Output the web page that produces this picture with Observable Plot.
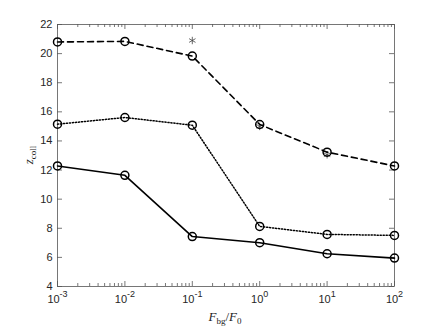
<!DOCTYPE html>
<html><head><meta charset="utf-8">
<script src="https://cdn.jsdelivr.net/npm/d3@7"></script>
<script src="https://cdn.jsdelivr.net/npm/@observablehq/plot@0.6"></script>
<style>body{margin:0;background:#fff}</style>
</head><body><div id="chart"></div>
<script>
// Data
const ratios = [1e-3, 1e-2, 1e-1, 1, 10, 100];
const dashedVals = [20.8, 20.84, 19.83, 15.13, 13.23, 12.28];
const dottedVals = [15.15, 15.61, 15.08, 8.13, 7.58, 7.51];
const solidVals  = [12.28, 11.64, 7.43, 7.01, 6.25, 5.95];
const starRatios = [1e-1, 1, 10];
const starVals   = [20.9, 15.0, 13.05];
const xTickExps  = [-3, -2, -1, 0, 1, 2];
const yTicks     = [4, 6, 8, 10, 12, 14, 16, 18, 20, 22];

const majorX = xTickExps.map(e => Math.pow(10, e));
const minorX = xTickExps.slice(0, -1).flatMap(e => [2,3,4,5,6,7,8,9].map(k => k * Math.pow(10, e)));
const toRows = vals => ratios.map((r, i) => ({x: r, y: vals[i]}));
const stars = starRatios.map((r, i) => ({x: r, y: starVals[i]}));

const W = 436, H = 327, ML = 57, MR = 42, MT = 24, MB = 41;
const PW = W - ML - MR, PH = H - MT - MB;
const axisStroke = "#555";
const chart = Plot.plot({
  width: W, height: H,
  marginLeft: ML, marginRight: MR, marginTop: MT, marginBottom: MB,
  style: {fontFamily: "'Liberation Sans', Arial, sans-serif", fontSize: "11px", color: "#262626", background: "#fff"},
  x: {type: "log", domain: [1e-3, 1e2]},
  y: {domain: [4, 22]},
  marks: [
    Plot.frame({stroke: axisStroke, strokeWidth: 0.8}),
    Plot.axisY({ticks: yTicks, tickSize: 0, tickPadding: 5, tickFormat: d => String(d), label: null}),
    Plot.axisX({ticks: majorX, tickSize: 0, tickPadding: 9, tickFormat: d => "10^" + Math.round(Math.log10(d)), label: null}),
    // inward ticks
    Plot.tickY(yTicks, {y: d => d, insetRight: PW - 5, stroke: axisStroke, strokeWidth: 0.8}),
    Plot.tickY(yTicks, {y: d => d, insetLeft: PW - 5, stroke: axisStroke, strokeWidth: 0.8}),
    Plot.tickX(majorX, {x: d => d, insetTop: PH - 5, stroke: axisStroke, strokeWidth: 0.8}),
    Plot.tickX(majorX, {x: d => d, insetBottom: PH - 5, stroke: axisStroke, strokeWidth: 0.8}),
    Plot.tickX(minorX, {x: d => d, insetTop: PH - 3, stroke: axisStroke, strokeWidth: 0.8}),
    Plot.tickX(minorX, {x: d => d, insetBottom: PH - 3, stroke: axisStroke, strokeWidth: 0.8}),
    Plot.dot(stars, {x: "x", y: "y", symbol: "asterisk", r: 3.5, stroke: "#444", strokeWidth: 0.8}),
    Plot.line(toRows(dashedVals), {x: "x", y: "y", stroke: "black", strokeWidth: 1.6, strokeDasharray: "6,4"}),
    Plot.line(toRows(dottedVals), {x: "x", y: "y", stroke: "black", strokeWidth: 1.5, strokeDasharray: "1.2,1.8"}),
    Plot.line(toRows(solidVals), {x: "x", y: "y", stroke: "black", strokeWidth: 1.6}),
    Plot.dot(toRows(dashedVals), {x: "x", y: "y", r: 4, stroke: "black", strokeWidth: 1.5, fill: "none"}),
    Plot.dot(toRows(dottedVals), {x: "x", y: "y", r: 4, stroke: "black", strokeWidth: 1.5, fill: "none"}),
    Plot.dot(toRows(solidVals), {x: "x", y: "y", r: 4, stroke: "black", strokeWidth: 1.5, fill: "none"})
  ]
});
document.getElementById("chart").appendChild(chart);

const svg = d3.select(chart);
// Superscript exponents in x tick labels
svg.selectAll('g[aria-label="x-axis tick label"] text').each(function() {
  const t = d3.select(this);
  const s = t.text();
  if (!s.includes("^")) return;
  const [base, exp] = s.split("^");
  t.text(null);
  t.append("tspan").text(base);
  t.append("tspan").attr("dy", -6).attr("font-size", "9px").text(exp);
});

const serif = "'Liberation Serif', 'Times New Roman', serif";
// Y label: z_coll
const yl = svg.append("text")
  .attr("transform", "translate(33,155) rotate(-90)")
  .attr("text-anchor", "middle")
  .attr("font-family", serif).attr("fill", "#222");
yl.append("tspan").attr("font-style", "italic").attr("font-size", "13px").text("z");
yl.append("tspan").attr("font-size", "9px").attr("dy", 3).text("coll");

// X label: F_bg / F_0
const xl = svg.append("text")
  .attr("x", 225).attr("y", 321)
  .attr("text-anchor", "middle")
  .attr("font-family", serif).attr("fill", "#222");
xl.append("tspan").attr("font-style", "italic").attr("font-size", "13px").text("F");
xl.append("tspan").attr("font-size", "9px").attr("dy", 3).text("bg");
xl.append("tspan").attr("font-size", "13px").attr("dy", -3).text("/");
xl.append("tspan").attr("font-style", "italic").attr("font-size", "13px").text("F");
xl.append("tspan").attr("font-size", "9px").attr("dy", 3).text("0");
</script>
</body></html>
